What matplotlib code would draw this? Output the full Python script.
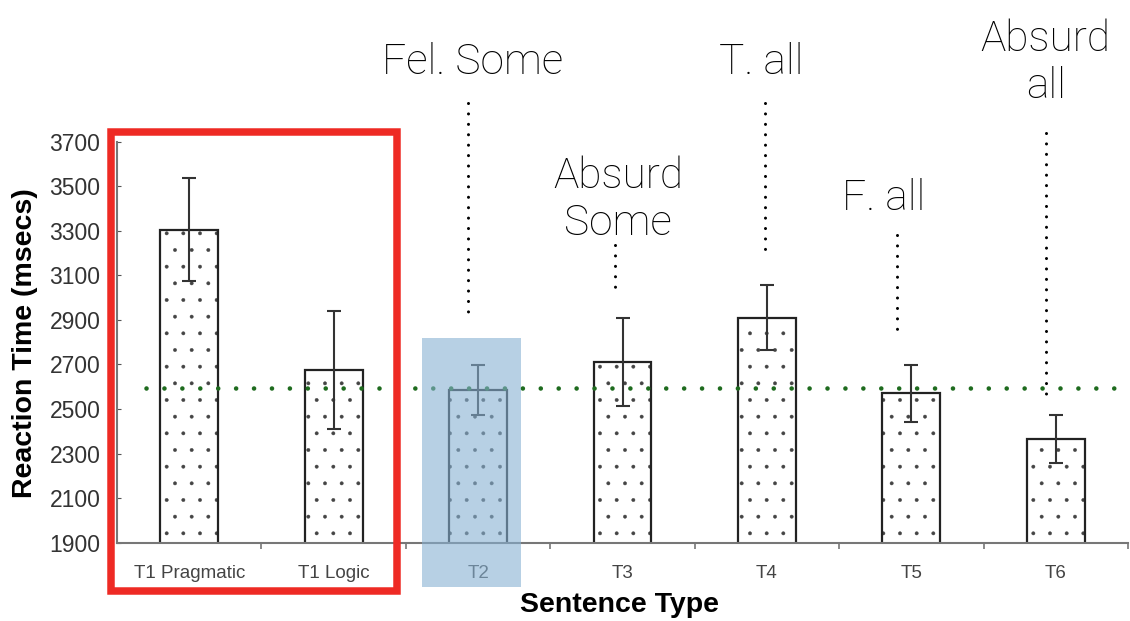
import numpy as np
import matplotlib
matplotlib.use("Agg")
import matplotlib.pyplot as plt
from matplotlib.patches import Rectangle

# data
categories = ["T1 Pragmatic", "T1 Logic", "T2", "T3", "T4", "T5", "T6"]
means = [3305, 2675, 2585, 2712, 2910, 2570, 2364]
errors = [230, 265, 113, 197, 147, 128, 107]
baseline = 2595
yticks = list(range(1900, 3701, 200))

# annotation labels: (text, text x, text baseline y, line x, line y0, line y1)
notes = [
    ("Fel. Some", 1.96, 4004, 1.93, 3874, 2900),
    ("Absurd\nSome", 2.97, 3281, 2.95, 3236, 3043),
    ("T. all", 3.96, 4004, 3.99, 3874, 3200),
    ("F. all", 4.81, 3393, 4.90, 3281, 2846),
    ("Absurd\nall", 5.93, 3896, 5.93, 3739, 2536),
]

plt.rcParams["font.family"] = ["Liberation Sans", "DejaVu Sans"]
plt.rcParams["hatch.linewidth"] = 0.3

fig = plt.figure(figsize=(11.3, 6.21), dpi=100)
ax = fig.add_axes([117 / 1130, 1 - 542.7 / 621, 1011 / 1130, 401 / 621])

x = np.arange(len(categories))
# dotted fill, then the outline on top
ax.bar(x, means, width=0.4, color="white", edgecolor="#444444",
       linewidth=0, hatch=".", zorder=2)
ax.bar(x, means, width=0.4, color="none", edgecolor="#222222",
       linewidth=1.6, zorder=2.5)
ax.errorbar(x, means, yerr=errors, fmt="none", ecolor="#333333",
            elinewidth=1.5, capsize=5, capthick=1.5, zorder=3)

# green reference line
ax.plot([-0.3, 6.47], [baseline, baseline], color="#1e6b1e", lw=3.3,
        linestyle=(0, (0.01, 3.9)), dash_capstyle="round", zorder=4,
        clip_on=False)

ax.set_xlim(-0.5, 6.5)
ax.set_ylim(1900, 3700)
ax.set_yticks(yticks)
ax.set_xticks(x)
ax.set_xticklabels(categories)
ax.set_xticks(np.arange(0.5, 7, 1), minor=True)
ax.tick_params(axis="x", which="major", length=0, pad=16, labelsize=13.5,
               labelcolor="#444444")
ax.tick_params(axis="x", which="minor", length=4, direction="out",
               color="#777777", width=1.2)
ax.tick_params(axis="y", length=3, direction="in", color="#555555",
               labelsize=16.5, labelcolor="#333333", pad=12)
for s in ["top", "right"]:
    ax.spines[s].set_visible(False)
for s in ["left", "bottom"]:
    ax.spines[s].set_color("#777777")
    ax.spines[s].set_linewidth(1.5)

fig.text(25 / 1130, 1 - 343 / 621, "Reaction Time (msecs)", rotation=90,
         ha="center", va="center", fontsize=20.5, fontweight="bold")
fig.text(620 / 1130, 1 - 605 / 621, "Sentence Type", ha="center",
         va="center", fontsize=20.5, fontweight="bold")

# highlight boxes
ax.add_patch(Rectangle((1.61, 1701), 0.69, 2819 - 1701, facecolor="#87b1d2",
                       alpha=0.6, edgecolor="none", zorder=5, clip_on=False))
ax.add_patch(Rectangle((-0.54, 1685), 1.98, 3744 - 1685, facecolor="none",
                       edgecolor="#ee2a24", linewidth=5.4, zorder=6,
                       clip_on=False))

# annotations with dotted leaders
for label, tx, ty, lx, y0, y1 in notes:
    ax.text(tx, ty, label, ha="center", va="baseline", fontsize=30.5,
            family=["Roboto", "DejaVu Sans"], fontweight="light",
            linespacing=1.2, clip_on=False)
    ax.plot([lx, lx], [y0, y1], color="black", lw=2.2,
            linestyle=(0, (0.01, 3.4)), dash_capstyle="round",
            clip_on=False, zorder=4)

fig.savefig("out.png", dpi=100)
